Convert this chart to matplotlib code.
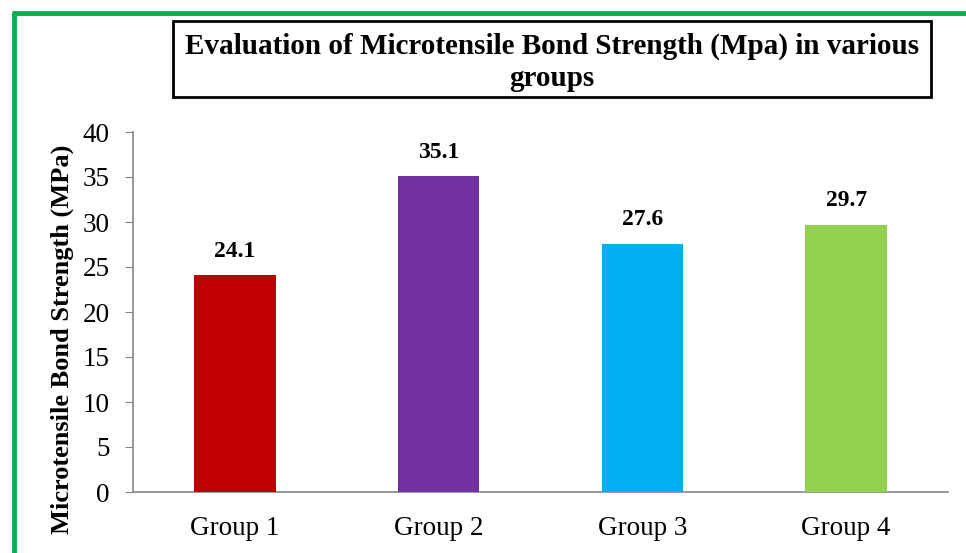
import matplotlib.pyplot as plt
import matplotlib.patheffects as pe
from matplotlib.patches import Rectangle

plt.rcParams['font.family'] = ['Liberation Serif', 'DejaVu Serif']

groups = ['Group 1', 'Group 2', 'Group 3', 'Group 4']
strength = [24.1, 35.1, 27.6, 29.7]
colors = ['#c00000', '#7030a0', '#00b0f0', '#92d050']

fig = plt.figure(figsize=(9.66, 5.53), dpi=100)
ax = fig.add_axes([133 / 966, 1 - 492 / 553, 815 / 966, 360 / 553])

bars = ax.bar(range(len(groups)), strength, width=0.4, color=colors, zorder=3)
for b in bars:
    b.set_path_effects([pe.SimplePatchShadow(offset=(0, -1.5), shadow_rgbFace='gray', alpha=0.35),
                        pe.Normal()])

for i, v in enumerate(strength):
    ax.text(i, v + 1.5, f'{v:.1f}', ha='center', va='bottom', fontsize=17, fontweight='bold')

ax.set_xlim(-0.5, len(groups) - 0.5)
ax.set_ylim(0, 40)
ax.set_yticks(range(0, 41, 5))
ax.set_xticks(range(len(groups)))
ax.set_xticklabels(groups)
ax.tick_params(axis='x', length=0, labelsize=19.5, pad=17)
ax.tick_params(axis='y', length=6, color='#868686', labelsize=19.5, pad=11)
ax.set_ylabel('Microtensile Bond Strength (MPa)', fontsize=19, fontweight='bold')
ax.yaxis.set_label_coords(-0.073, 0.425)

for side in ['top', 'right']:
    ax.spines[side].set_visible(False)
for side in ['left', 'bottom']:
    ax.spines[side].set_color('#868686')
    ax.spines[side].set_linewidth(1.2)

# title in a framed box
fig.patches.append(Rectangle((173 / 966, 1 - 97 / 553), 758 / 966, 76 / 553,
                             transform=fig.transFigure, fill=False, edgecolor='black', linewidth=2))
fig.text(552 / 966, 1 - 62 / 553,
         'Evaluation of Microtensile Bond Strength (Mpa) in various\ngroups',
         ha='center', va='center', fontsize=21, fontweight='bold', linespacing=1.25)

# green frame on top and left edges
fig.add_artist(plt.Line2D([13.5 / 966, 13.5 / 966], [0, 1 - 12.5 / 553], color='#00b050',
                          linewidth=3.5, transform=fig.transFigure, solid_capstyle='butt'))
fig.add_artist(plt.Line2D([12 / 966, 1], [1 - 12.5 / 553, 1 - 12.5 / 553], color='#00b050',
                          linewidth=3.5, transform=fig.transFigure, solid_capstyle='butt'))

fig.savefig('out.png', dpi=100)
